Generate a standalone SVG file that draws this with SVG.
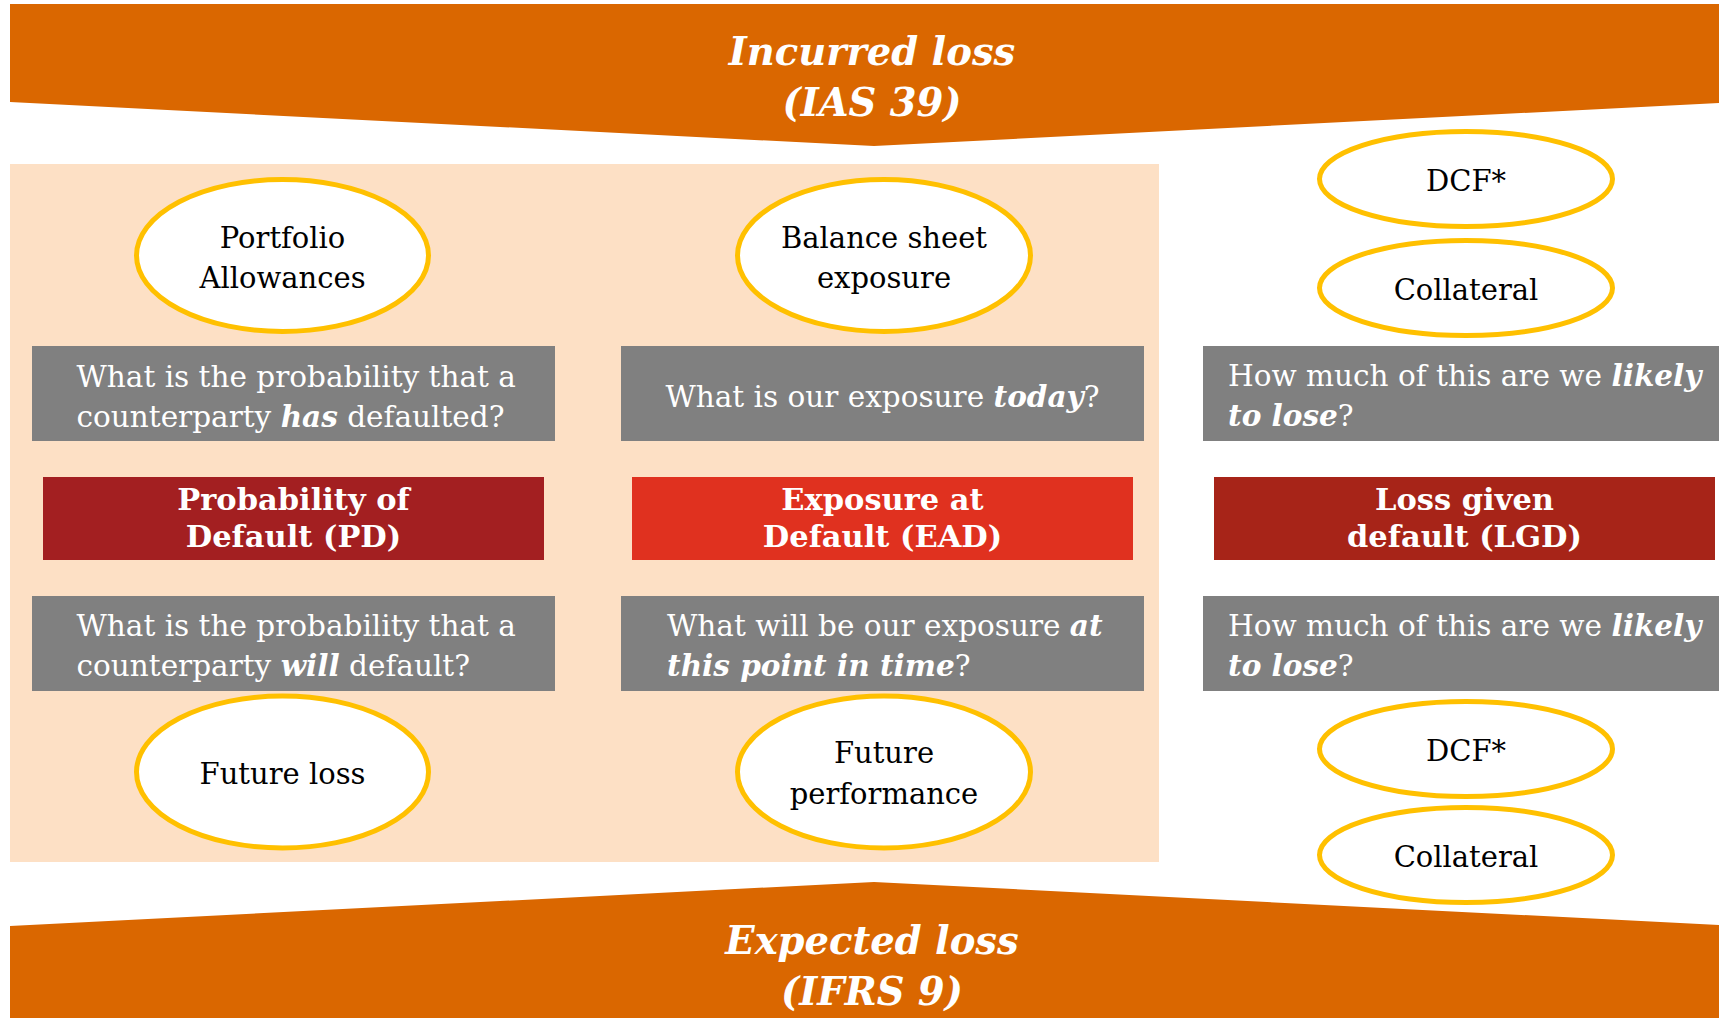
<svg xmlns="http://www.w3.org/2000/svg" width="1719" height="1018" viewBox="0 0 1719 1018">
<style>
.banner{fill:#DA6700}
.bt{font-family:"DejaVu Serif",serif;font-weight:bold;font-style:italic;font-size:38.5px;fill:#fff;text-anchor:middle}
.el{fill:#fff;stroke:#FFC000;stroke-width:5}
.et{font-family:"DejaVu Serif",serif;font-size:29px;fill:#000;text-anchor:middle}
.q{fill:#808080}
.qt{font-family:"DejaVu Serif",serif;font-size:29.5px;fill:#fff}
.em{font-weight:bold;font-style:italic}
.rd{fill:#A31F21}
.rd3{fill:#A72418}
.rd2{fill:#E0311F}
.rt{font-family:"DejaVu Serif",serif;font-weight:bold;font-size:30.5px;fill:#fff;text-anchor:middle}
</style>
<rect x="0" y="0" width="1719" height="1018" fill="#fff"/>
<rect id="panel" x="10" y="164" width="1149" height="698" fill="#FDE0C5"/>
<g id="connectors"/>
<g id="banner-top">
<polygon class="banner" points="10,4 1719,4 1719,103 874,146 10,102"/>
<text class="bt" x="872" y="65">Incurred loss</text>
<text class="bt" x="872" y="116">(IAS 39)</text>
</g>
<g id="banner-bottom">
<polygon class="banner" points="10,926 874,882 1719,925 1719,1018 10,1018"/>
<text class="bt" x="872" y="954">Expected loss</text>
<text class="bt" x="872" y="1005">(IFRS 9)</text>
</g>
<g id="portfolio-allowances">
<ellipse class="el" cx="282.5" cy="255.5" rx="146" ry="76"/>
<text class="et" x="282.5" y="248">Portfolio</text>
<text class="et" x="282.5" y="288">Allowances</text>
</g>
<g id="balance-sheet-exposure">
<ellipse class="el" cx="884" cy="255.5" rx="146.5" ry="76"/>
<text class="et" x="884" y="248">Balance sheet</text>
<text class="et" x="884" y="288">exposure</text>
</g>
<g id="dcf-top">
<ellipse class="el" cx="1466" cy="179" rx="146.5" ry="47.5"/>
<text class="et" x="1466" y="191">DCF*</text>
</g>
<g id="collateral-top">
<ellipse class="el" cx="1466" cy="288" rx="146.5" ry="47.5"/>
<text class="et" x="1466" y="300">Collateral</text>
</g>
<g id="q-pd-has">
<rect class="q" x="32" y="346" width="523" height="95"/>
<text class="qt" x="76.5" y="387">What is the probability that a</text>
<text class="qt" x="76.5" y="427">counterparty <tspan class="em">has</tspan> defaulted?</text>
</g>
<g id="q-ead-today">
<rect class="q" x="621" y="346" width="523" height="95"/>
<text class="qt" x="882.5" y="407" text-anchor="middle">What is our exposure <tspan class="em">today</tspan>?</text>
</g>
<g id="q-lgd-top">
<rect class="q" x="1203" y="346" width="516" height="95"/>
<text class="qt" x="1228" y="386">How much of this are we <tspan class="em">likely</tspan></text>
<text class="qt" x="1228" y="426"><tspan class="em">to lose</tspan>?</text>
</g>
<g id="pd">
<rect class="rd" x="43" y="477" width="501" height="83"/>
<text class="rt" x="293.5" y="510">Probability of</text>
<text class="rt" x="293.5" y="547">Default (PD)</text>
</g>
<g id="ead">
<rect class="rd2" x="632" y="477" width="501" height="83"/>
<text class="rt" x="882.5" y="510">Exposure at</text>
<text class="rt" x="882.5" y="547">Default (EAD)</text>
</g>
<g id="lgd">
<rect class="rd3" x="1214" y="477" width="501" height="83"/>
<text class="rt" x="1464.5" y="510">Loss given</text>
<text class="rt" x="1464.5" y="547">default (LGD)</text>
</g>
<g id="q-pd-will">
<rect class="q" x="32" y="596" width="523" height="95"/>
<text class="qt" x="76.5" y="636">What is the probability that a</text>
<text class="qt" x="76.5" y="676">counterparty <tspan class="em">will</tspan> default?</text>
</g>
<g id="q-ead-future">
<rect class="q" x="621" y="596" width="523" height="95"/>
<text class="qt" x="667" y="636">What will be our exposure <tspan class="em">at</tspan></text>
<text class="qt" x="667" y="676"><tspan class="em">this point in time</tspan>?</text>
</g>
<g id="q-lgd-bottom">
<rect class="q" x="1203" y="596" width="516" height="95"/>
<text class="qt" x="1228" y="636">How much of this are we <tspan class="em">likely</tspan></text>
<text class="qt" x="1228" y="676"><tspan class="em">to lose</tspan>?</text>
</g>
<g id="future-loss">
<ellipse class="el" cx="282.5" cy="772" rx="146" ry="76"/>
<text class="et" x="282.5" y="784">Future loss</text>
</g>
<g id="future-performance">
<ellipse class="el" cx="884" cy="772" rx="146.5" ry="76"/>
<text class="et" x="884" y="763">Future</text>
<text class="et" x="884" y="804">performance</text>
</g>
<g id="dcf-bottom">
<ellipse class="el" cx="1466" cy="749" rx="146.5" ry="47.5"/>
<text class="et" x="1466" y="761">DCF*</text>
</g>
<g id="collateral-bottom">
<ellipse class="el" cx="1466" cy="855" rx="146.5" ry="47.5"/>
<text class="et" x="1466" y="867">Collateral</text>
</g>
</svg>
